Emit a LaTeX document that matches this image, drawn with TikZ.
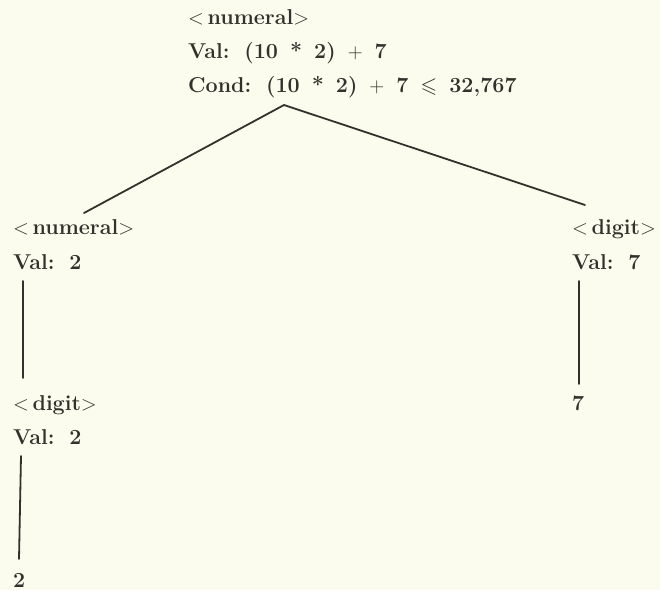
\documentclass[tikz,border=0pt]{standalone}
\usepackage{amssymb}
\usepackage{fontspec}
\usetikzlibrary{positioning}

\definecolor{paper}{RGB}{252,252,238}
\definecolor{ink}{RGB}{50,50,45}

\newcommand{\widespace}{\spaceskip=0.56em plus 0.1em\relax}
\newcommand{\symname}[1]{$<$\,{\addfontfeature{LetterSpace=7}#1}$>$}

\tikzset{
  txt/.style={anchor=base west, inner sep=0pt, text=ink,
    font=\fontsize{21.5}{26}\selectfont\bfseries,
    execute at begin node=\widespace},
  branch/.style={line width=1.8pt, draw=ink, line cap=round}
}

\begin{document}
\begin{tikzpicture}[x=1pt,y=-1pt]
    \fill[paper] (0,0) rectangle (660,590);
    \useasboundingbox (0,0) rectangle (660,590);

    % root
    \node[txt] (rootname) at (188,24) {\symname{numeral}};
    \node[txt] (rootval)  at (188,58) {Val: (10 * 2) $+$ 7};
    \node[txt] (rootcond) at (188,92) {Cond: (10 * 2) $+$ 7 $\leqslant$ 32,767};

    % left subtree
    \node[txt] (lnumname) at (13,234) {\symname{numeral}};
    \node[txt] (lnumval)  at (13,269) {Val: 2};
    \node[txt] (ldigname) at (13,410) {\symname{digit}};
    \node[txt] (ldigval)  at (13,444) {Val: 2};
    \node[txt] (lleaf)    at (13,587) {2};

    % right subtree
    \node[txt] (rdigname) at (572,234) {\symname{digit}};
    \node[txt] (rdigval)  at (572,269) {Val: 7};
    \node[txt] (rleaf)    at (572,410) {7};

    % connector ends
    \coordinate (apex)     at (284,105);
    \coordinate (lnumtop)  at (84,213);
    \coordinate (rdigtop)  at (585,205);
    \coordinate (lnumbot)  at (23,281);
    \coordinate (ldigtop)  at (23,378);
    \coordinate (ldigbot)  at (21,456);
    \coordinate (lleaftop) at (19,559);
    \coordinate (rdigbot)  at (579,281);
    \coordinate (rleaftop) at (579,384);

    \draw[branch] (apex) -- (lnumtop);
    \draw[branch] (apex) -- (rdigtop);
    \draw[branch] (lnumbot) -- (ldigtop);
    \draw[branch] (ldigbot) -- (lleaftop);
    \draw[branch] (rdigbot) -- (rleaftop);
\end{tikzpicture}
\end{document}
